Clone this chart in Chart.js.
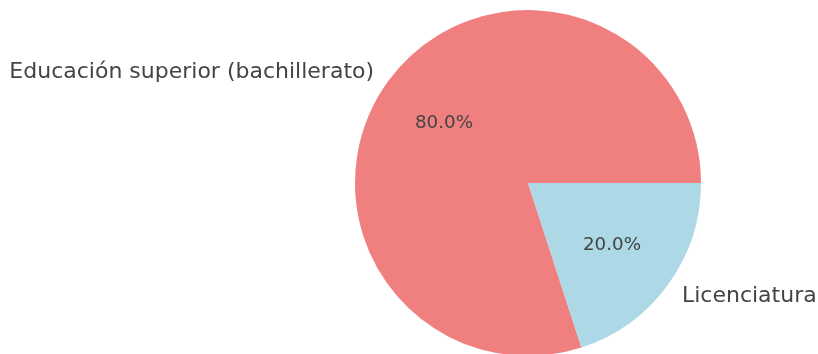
<!DOCTYPE html>
<html>
<head>
<meta charset="utf-8">
<script src="https://cdn.jsdelivr.net/npm/chart.js@4/dist/chart.umd.min.js"></script>
<style>
html,body{margin:0;padding:0;background:#fff;overflow:hidden;width:818px;height:354px;}
canvas{display:block;}
</style>
</head>
<body>
<canvas id="c" width="818" height="360"></canvas>
<script>
const categories = ['Educación superior (bachillerato)', 'Licenciatura'];
const values = [80, 20];
const colors = ['#F08080', '#ADD8E6'];

const labelPlugin = {
  id: 'pieLabels',
  afterDatasetsDraw(chart) {
    const ctx = chart.ctx;
    const meta = chart.getDatasetMeta(0);
    const total = values.reduce((a, b) => a + b, 0);
    meta.data.forEach((arc, i) => {
      const mid = (arc.startAngle + arc.endAngle) / 2;
      const r = arc.outerRadius;
      const cx = arc.x, cy = arc.y;
      ctx.save();
      ctx.fillStyle = '#444444';
      ctx.textBaseline = 'middle';
      const lx = cx + Math.cos(mid) * r * 1.1;
      const ly = cy + Math.sin(mid) * r * 1.1 + 1.5;
      ctx.font = '22px "DejaVu Sans"';
      ctx.textAlign = Math.cos(mid) < 0 ? 'right' : 'left';
      ctx.fillText(categories[i], lx, ly);
      const px = cx + Math.cos(mid) * r * 0.6;
      const py = cy + Math.sin(mid) * r * 0.6 + 1.5;
      ctx.font = '18.3px "DejaVu Sans"';
      ctx.textAlign = 'center';
      ctx.fillText((values[i] / total * 100).toFixed(1) + '%', px, py);
      ctx.restore();
    });
  }
};

new Chart(document.getElementById('c'), {
  type: 'pie',
  data: {
    labels: categories,
    datasets: [{
      data: values,
      backgroundColor: colors,
      borderWidth: 0,
      hoverOffset: 0
    }]
  },
  options: {
    responsive: false,
    animation: false,
    rotation: 162,
    layout: { padding: { left: 355, right: 117, top: 10, bottom: 4 } },
    plugins: { legend: { display: false }, tooltip: { enabled: false } }
  },
  plugins: [labelPlugin]
});
</script>
</body>
</html>
